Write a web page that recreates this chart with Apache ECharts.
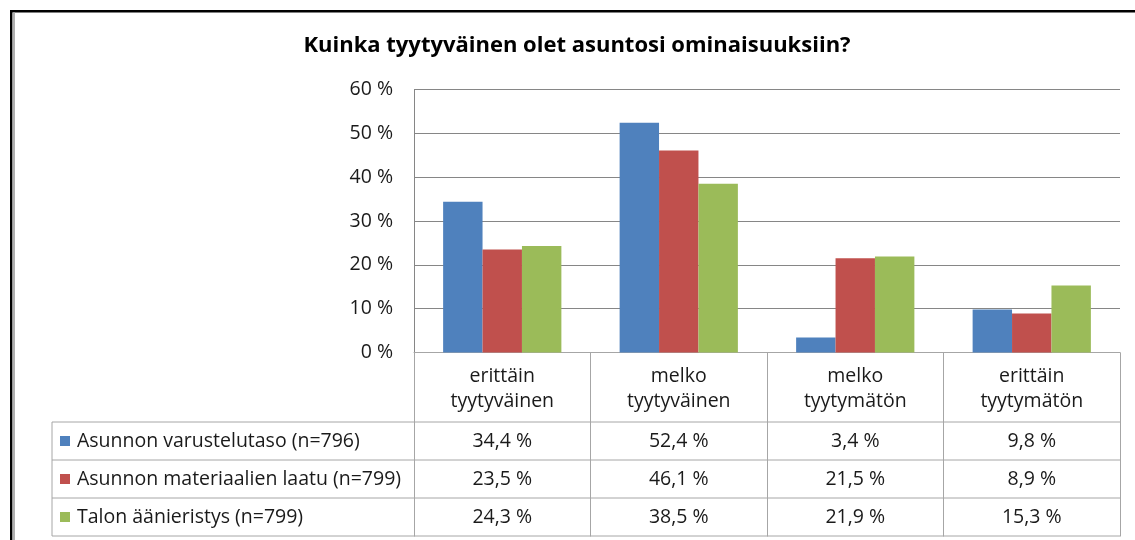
<!DOCTYPE html>
<html>
<head>
<meta charset="utf-8">
<script src="https://cdn.jsdelivr.net/npm/echarts@6/dist/echarts.min.js"></script>
<style>
html, body { margin: 0; padding: 0; background: #fff; }
#chart { width: 1135px; height: 540px; }
</style>
</head>
<body>
<div id="chart"></div>
<script>
var categories = ['erittäin\ntyytyväinen', 'melko\ntyytyväinen', 'melko\ntyytymätön', 'erittäin\ntyytymätön'];
var seriesNames = ['Asunnon varustelutaso (n=796)', 'Asunnon materiaalien laatu (n=799)', 'Talon äänieristys (n=799)'];
var varustelutaso = [34.4, 52.4, 3.4, 9.8];
var materiaalit = [23.5, 46.1, 21.5, 8.9];
var aanieristys = [24.3, 38.5, 21.9, 15.3];
var colors = ['#4f81bd', '#c0504d', '#9bbb59'];

var font = 'Open Sans';
var fs = 19.5;
var lineGrey = '#a6a6a6';
var allValues = [varustelutaso, materiaalit, aanieristys];
var rowTops = [422, 460, 498, 536];

function pct(v) {
    return v.toFixed(1).replace('.', ',') + ' %';
}

var chart = echarts.init(document.getElementById('chart'));

// one legend per table row so each colour key sits in its own row
var legends = seriesNames.map(function (name, i) {
    return {
        left: 60,
        top: (rowTops[i] + rowTops[i + 1]) / 2 - 12,
        padding: 0,
        itemWidth: 10,
        itemHeight: 10,
        icon: 'rect',
        selectedMode: false,
        data: [name],
        textStyle: { fontFamily: font, fontSize: fs, lineHeight: 24, color: '#1a1a1a', padding: [0, 0, 0, 2] }
    };
});

chart.setOption({
    animation: false,
    color: colors,
    textStyle: { fontFamily: font },
    grid: { left: 414, right: 15, top: 89.5, bottom: 187.5 },
    legend: legends,
    xAxis: {
        type: 'category',
        data: categories,
        axisLine: { lineStyle: { color: lineGrey, width: 1 } },
        axisTick: { show: true, interval: 0, length: 184, lineStyle: { color: lineGrey } },
        axisLabel: { interval: 0, margin: 11, fontSize: fs, lineHeight: 25, color: '#1a1a1a', fontFamily: font }
    },
    yAxis: {
        type: 'value',
        min: 0,
        max: 60,
        interval: 10,
        axisLine: { show: true, lineStyle: { color: '#868686' } },
        axisTick: { show: false },
        splitLine: { lineStyle: { color: '#868686' } },
        axisLabel: { formatter: '{value} %', margin: 21, fontSize: fs, color: '#1a1a1a', fontFamily: font }
    },
    series: [
        { name: seriesNames[0], type: 'bar', data: varustelutaso, barGap: '0%', barCategoryGap: '33%' },
        { name: seriesNames[1], type: 'bar', data: materiaalit, barGap: '0%', barCategoryGap: '33%' },
        { name: seriesNames[2], type: 'bar', data: aanieristys, barGap: '0%', barCategoryGap: '33%' }
    ]
});

// data table under the plot + frame + title
var graphics = [
    { type: 'rect', shape: { x: 10, y: 10, width: 1130, height: 2.5 }, style: { fill: '#000' } },
    { type: 'rect', shape: { x: 10, y: 10, width: 2.5, height: 540 }, style: { fill: '#000' } },
    { type: 'rect', shape: { x: 12.5, y: 12.5, width: 2.5, height: 540 }, style: { fill: '#b0b0b0' } },
    {
        type: 'text', x: 577, y: 46,
        style: {
            text: 'Kuinka tyytyväinen olet asuntosi ominaisuuksiin?',
            fontFamily: font, fontSize: 22, fontWeight: 'bold', fill: '#000',
            textAlign: 'center', textVerticalAlign: 'middle'
        }
    },
    { type: 'line', shape: { x1: 52, y1: rowTops[0], x2: 52, y2: rowTops[3] }, style: { stroke: lineGrey, lineWidth: 1 } }
];
rowTops.forEach(function (y) {
    graphics.push({ type: 'line', shape: { x1: 52, y1: y, x2: 1120, y2: y }, style: { stroke: lineGrey, lineWidth: 1 } });
});
allValues.forEach(function (vals, i) {
    var cy = (rowTops[i] + rowTops[i + 1]) / 2;
    vals.forEach(function (v, j) {
        var cx = chart.convertToPixel({ xAxisIndex: 0 }, j);
        graphics.push({
            type: 'text', x: cx, y: cy,
            style: {
                text: pct(v), fontFamily: font, fontSize: fs, fill: '#1a1a1a',
                textAlign: 'center', textVerticalAlign: 'middle'
            }
        });
    });
});

chart.setOption({ graphic: graphics });
</script>
</body>
</html>
